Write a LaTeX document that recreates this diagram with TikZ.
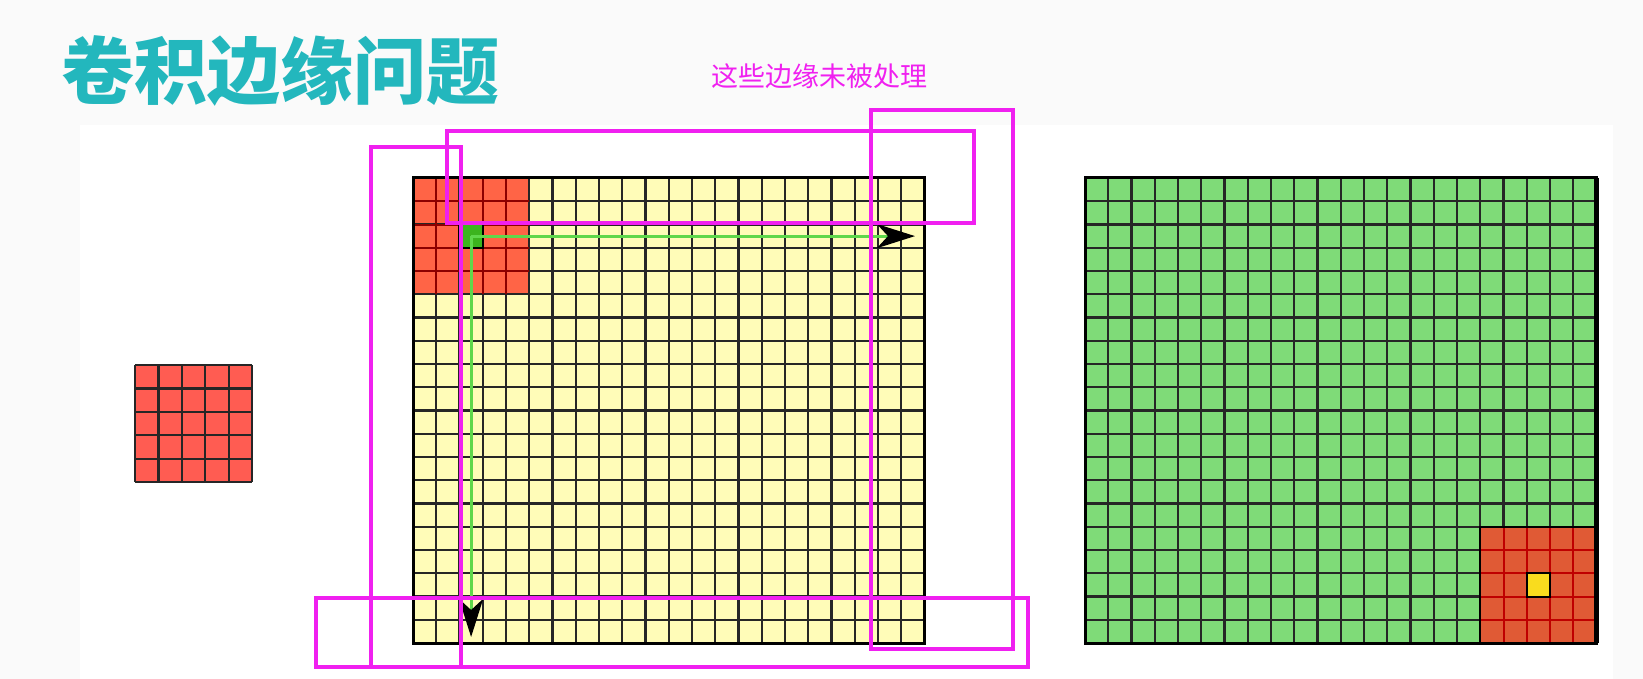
\documentclass[tikz,border=0pt]{standalone}
\usepackage{fontspec}
\newfontfamily\cjk{Noto Sans CJK SC}
\usetikzlibrary{arrows.meta,positioning}
\definecolor{pagegray}{RGB}{250,250,250}
\definecolor{titleteal}{RGB}{35,183,189}
\definecolor{edgepink}{RGB}{240,32,240}
\definecolor{kernred}{RGB}{255,92,82}
\definecolor{patchred}{RGB}{255,100,70}
\definecolor{outred}{RGB}{224,90,53}
\definecolor{inyellow}{RGB}{255,252,184}
\definecolor{outgreen}{RGB}{127,219,120}
\definecolor{curgreen}{RGB}{60,180,30}
\definecolor{scangreen}{RGB}{95,215,75}
\definecolor{hityellow}{RGB}{249,220,30}

\begin{document}
\begin{tikzpicture}[x=1pt,y=-1pt,
	gridline/.style={line width=2.2pt, draw=black!85},
	redline/.style={line width=2pt, draw=red!55!black},
	frame/.style={line width=3pt, draw=black},
	edgebox/.style={line width=3.5pt, draw=edgepink},
	cellbox/.style={draw=black, line width=2pt, minimum size=23.25pt, inner sep=0pt},
	scan/.style={line width=3pt, draw=scangreen, -{Stealth[black,length=38pt,width=24pt,inset=11pt]}}]
		\fill[pagegray] (0,0) rectangle (1643,679);
		\useasboundingbox (0,0) rectangle (1643,679);
		\fill[white] (80,125) rectangle (1613,679);

		\node[inner sep=0pt, text=titleteal] (title) at (280,71) {\cjk\bfseries\fontsize{73}{80}\selectfont 卷积边缘问题};
		\node[inner sep=0pt, text=edgepink] (note) at (819,76) {\cjk\fontsize{27}{30}\selectfont 这些边缘未被处理};

		\fill[kernred] (135,365) rectangle (252,482);
		\foreach \i in {0,...,5} {
			\draw[gridline] ({135+\i*23.4},365) -- ({135+\i*23.4},482);
			\draw[gridline] (135,{365+\i*23.4}) -- (252,{365+\i*23.4});
		}

		\fill[inyellow] (413,178) rectangle (924.5,643);
		\fill[patchred] (413,178) rectangle (529.25,294.25);
		\foreach \i in {0,...,22}
			\draw[gridline] ({413+\i*23.25},178) -- ({413+\i*23.25},643);
		\foreach \i in {0,...,20}
			\draw[gridline] (413,{178+\i*23.25}) -- (924.5,{178+\i*23.25});
		\foreach \i in {1,...,4} {
			\draw[redline] ({413+\i*23.25},178) -- ({413+\i*23.25},294.25);
			\draw[redline] (413,{178+\i*23.25}) -- (529.25,{178+\i*23.25});
		}
		\draw[frame] (413,178) rectangle (924.5,643);
		\node[cellbox, fill=curgreen] (cur) at (471.1,236.1) {};

		\coordinate (rowend) at (915,237);
		\coordinate (colend) at (472,637);
		\draw[scan] (cur.center) -- (cur.center -| rowend);
		\draw[scan] (cur.center) -- (cur.center |- colend);

		\fill[outgreen] (1085,178) rectangle (1596.5,643);
		\foreach \i in {0,...,22}
			\draw[gridline] ({1085+\i*23.25},178) -- ({1085+\i*23.25},643);
		\foreach \i in {0,...,20}
			\draw[gridline] (1085,{178+\i*23.25}) -- (1596.5,{178+\i*23.25});
		\fill[outred] (1480.25,526.75) rectangle (1596.5,643);
		\foreach \i in {1,...,4} {
			\draw[line width=2pt, draw=red!75!black] ({1480.25+\i*23.25},526.75) -- ({1480.25+\i*23.25},643);
			\draw[line width=2pt, draw=red!75!black] (1480.25,{526.75+\i*23.25}) -- (1596.5,{526.75+\i*23.25});
		}
		\draw[line width=2.2pt] (1480.25,643) -- (1480.25,526.75) -- (1596.5,526.75);
		\draw[frame] (1085,178) rectangle (1596.5,643);
		\draw[line width=5pt] (1596.5,178) -- (1596.5,643);
		\node[cellbox, fill=hityellow] (hit) at (1538.4,584.9) {};

		\draw[edgebox] (447,131) rectangle (974,223);
		\draw[edgebox] (871,110) rectangle (1013,649);
		\draw[edgebox] (371,147) rectangle (461,667);
		\draw[edgebox] (316,598) rectangle (1028,667);
	\end{tikzpicture}
\end{document}
